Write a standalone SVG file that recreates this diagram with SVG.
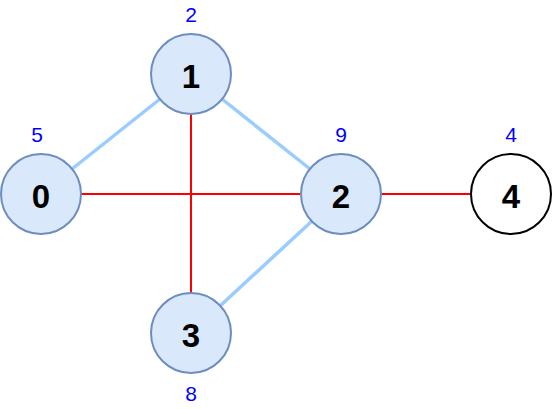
<svg xmlns="http://www.w3.org/2000/svg" width="552" height="409" viewBox="0 0 552 409">
<style>
.n{fill:#dae8fc;stroke:#6c8ebf;stroke-width:2}
.w{fill:#ffffff;stroke:#000000;stroke-width:2}
.t{font-family:"Liberation Sans",Arial,sans-serif;font-weight:bold;font-size:33px;fill:#000;text-anchor:middle}
.l{font-family:"Liberation Sans",Arial,sans-serif;font-size:21px;fill:#0000ff;text-anchor:middle}
.b{stroke:#99ccff;stroke-width:3.5;fill:none}
.r{stroke:#ff0000;stroke-width:2;fill:none}
</style>
<rect width="552" height="409" fill="#ffffff"/>
<g id="connectors">
<line class="b" x1="72" y1="169" x2="160" y2="99"/>
<line class="b" x1="222" y1="99" x2="310" y2="169"/>
<line class="b" x1="312" y1="221" x2="220" y2="306"/>
<line class="r" x1="81" y1="194" x2="301" y2="194"/>
<line class="r" x1="191" y1="114" x2="191" y2="293"/>
<line class="r" x1="381" y1="194" x2="471" y2="194"/>
</g>
<g id="node0"><circle class="n" cx="41" cy="194" r="40"/><text class="t" x="41" y="207.5">0</text><text class="l" x="37" y="141.5">5</text></g>
<g id="node1"><circle class="n" cx="191" cy="74" r="40"/><text class="t" x="191" y="87.5">1</text><text class="l" x="191" y="21.5">2</text></g>
<g id="node2"><circle class="n" cx="341" cy="194" r="40"/><text class="t" x="341" y="207.5">2</text><text class="l" x="341" y="141.5">9</text></g>
<g id="node3"><circle class="n" cx="191" cy="333" r="40"/><text class="t" x="191" y="346.5">3</text><text class="l" x="191" y="400.5">8</text></g>
<g id="node4"><circle class="w" cx="511" cy="194" r="40"/><text class="t" x="511" y="207.5">4</text><text class="l" x="511" y="141.5">4</text></g>
</svg>
